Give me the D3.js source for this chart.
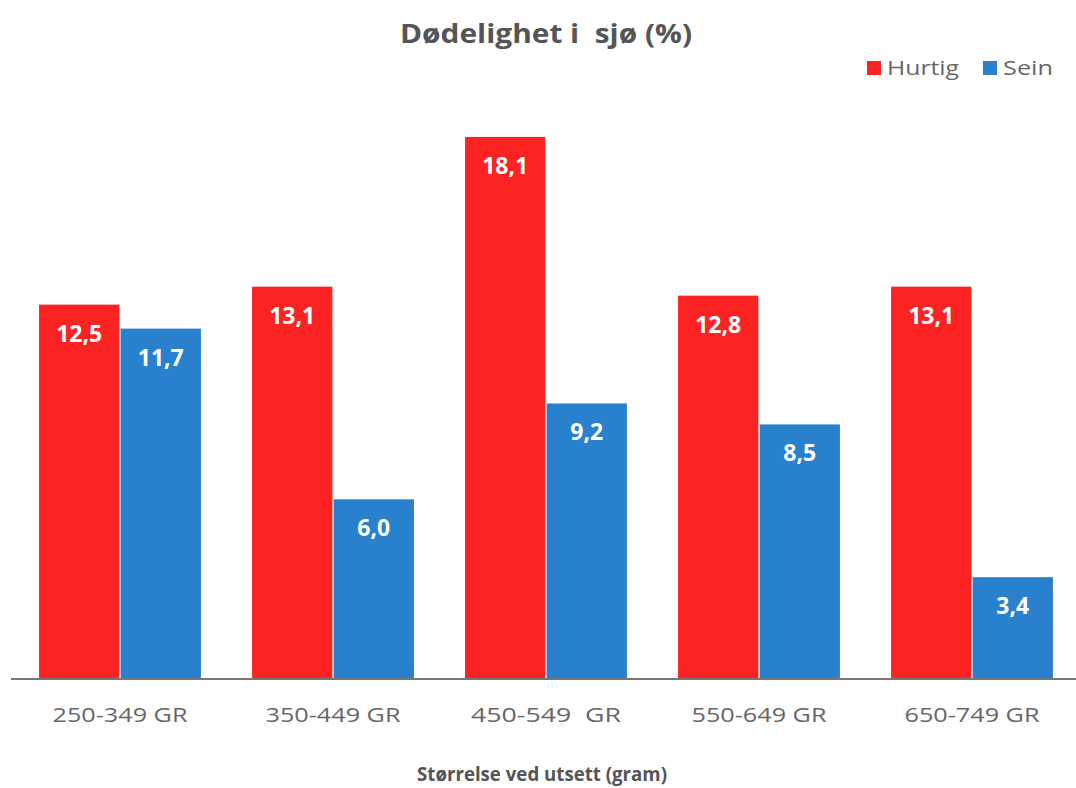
<!DOCTYPE html>
<html>
<head>
<meta charset="utf-8">
<script src="https://cdn.jsdelivr.net/npm/d3@7"></script>
<style>
  body { margin: 0; background: #fff; }
  text { font-family: "Open Sans", "Noto Sans", sans-serif; }
</style>
</head>
<body>
<div id="chart"></div>
<script>
// data
var categories = ["250-349 GR", "350-449 GR", "450-549  GR", "550-649 GR", "650-749 GR"];
var series = ["Hurtig", "Sein"];
var hurtig = [12.5, 13.1, 18.1, 12.8, 13.1];
var sein   = [11.7, 6.0, 9.2, 8.5, 3.4];
var colors = ["#fd2323", "#2980cc"];

var width = 1076, height = 788;
var base_y = 679;

var svg = d3.select("#chart").append("svg")
	.attr("width", width)
	.attr("height", height);

var x0 = d3.scaleBand()
	.domain(categories)
	.range([13.5, 1078.5])
	.paddingInner(0.24)
	.paddingOuter(0.12);

var x1 = d3.scaleBand()
	.domain(series)
	.range([0, x0.bandwidth()])
	.paddingInner(0.015);

var y = d3.scaleLinear()
	.domain([0, 20])
	.range([base_y, base_y - 599]);

var rows = categories.map(function(c, i) {
	return { cat: c, vals: [hurtig[i], sein[i]] };
});

var groups = svg.append("g").selectAll("g")
	.data(rows)
	.enter().append("g")
	.attr("transform", function(d) { return "translate(" + x0(d.cat) + ",0)"; });

var bars = groups.selectAll("g")
	.data(function(d) { return d.vals.map(function(v, j) { return { s: series[j], v: v, j: j }; }); })
	.enter().append("g");

bars.append("rect")
	.attr("x", function(d) { return x1(d.s); })
	.attr("y", function(d) { return y(d.v); })
	.attr("width", x1.bandwidth())
	.attr("height", function(d) { return base_y - y(d.v); })
	.attr("fill", function(d) { return colors[d.j]; });

bars.append("text")
	.attr("x", function(d) { return x1(d.s) + x1.bandwidth() / 2; })
	.attr("y", function(d) { return y(d.v) + 37; })
	.attr("text-anchor", "middle")
	.attr("fill", "#fff")
	.attr("font-size", 23)
	.attr("font-weight", "bold")
	.text(function(d) { return d.v.toFixed(1).replace(".", ","); });

// x axis
var xAxis = svg.append("g")
	.attr("transform", "translate(0," + base_y + ")")
	.call(d3.axisBottom(x0).tickSize(0).tickPadding(29));
xAxis.select(".domain").attr("stroke", "#777").attr("stroke-width", 2).attr("d", "M11,0H1076");
xAxis.selectAll("text")
	.attr("font-size", 20)
	.attr("fill", "#666")
	.style("font-family", "'Open Sans', sans-serif")
	.style("white-space", "pre")
	.attr("lengthAdjust", "spacingAndGlyphs")
	.attr("textLength", function(d) { return d.indexOf("  ") >= 0 ? 150 : 135; });

// titles
svg.append("text")
	.attr("x", 546).attr("y", 43)
	.attr("text-anchor", "middle")
	.attr("font-size", 27)
	.attr("font-weight", "bold")
	.attr("fill", "#555")
	.style("white-space", "pre")
	.attr("lengthAdjust", "spacingAndGlyphs")
	.attr("textLength", 292)
	.text("Dødelighet i  sjø (%)");

svg.append("text")
	.attr("x", 542).attr("y", 781)
	.attr("text-anchor", "middle")
	.attr("font-size", 20)
	.attr("font-weight", "bold")
	.attr("fill", "#555")
	.attr("lengthAdjust", "spacingAndGlyphs")
	.attr("textLength", 250)
	.text("Størrelse ved utsett (gram)");

// legend
var legend_x = [867, 983];
var legend_w = [72, 50];
var legend = svg.append("g").selectAll("g")
	.data(series)
	.enter().append("g")
	.attr("transform", function(d, i) { return "translate(" + legend_x[i] + ",61)"; });
legend.append("rect")
	.attr("width", 14).attr("height", 14)
	.attr("fill", function(d, i) { return colors[i]; });
legend.append("text")
	.attr("x", 20).attr("y", 14)
	.attr("font-size", 20)
	.attr("fill", "#666")
	.attr("lengthAdjust", "spacingAndGlyphs")
	.attr("textLength", function(d, i) { return legend_w[i]; })
	.text(function(d) { return d; });
</script>
</body>
</html>
